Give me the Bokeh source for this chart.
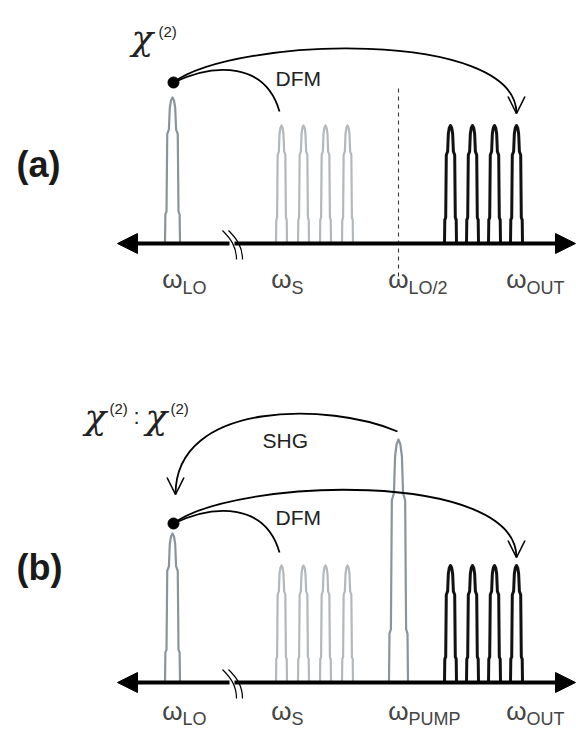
import numpy as np
from bokeh.plotting import figure
from bokeh.models import Range1d, Arrow, NormalHead, OpenHead
from bokeh.core.properties import value
from bokeh.embed import file_html
from bokeh.resources import INLINE

# ---------------- data (frequency positions, peak heights) ----------------
lo_freq = 172
signal_freqs = [281, 303, 325, 347]
out_freqs = [450, 472, 494, 516]
pump_freq = 398
half_lo_freq = 398
axis_start, axis_end = 117, 575
break_freq = 231

a_lo_height = 146
a_signal_heights = [118, 118, 118, 118]
a_out_heights = [118, 118, 118, 118]

b_lo_height = 149
b_signal_heights = [117, 117, 117, 117]
b_pump_height = 243
b_out_heights = [117, 117, 117, 117]

labels_a = ["LO", "S", "LO/2", "OUT"]
labels_a_freq = [lo_freq, signal_freqs[0], half_lo_freq, out_freqs[-1]]
labels_b = ["LO", "S", "PUMP", "OUT"]
labels_b_freq = [lo_freq, signal_freqs[0], pump_freq, out_freqs[-1]]

# ---------------- styles ----------------
GRAY_DARK = "#8b949b"
GRAY_LIGHT = "#b3b8bd"
BLACK = "#111111"
SANS = value("Liberation Sans")
SERIF = value("DejaVu Serif")

PROFILE_F = [0.0, 0.2, 0.22, 0.75, 0.78, 0.93, 0.98, 1.0]
PROFILE_W = [1.0, 0.95, 0.8, 0.7, 0.48, 0.36, 0.2, 0.0]

BASE_A = 486   # vertical offset of panel (a) spectrum axis
BASE_B = 47    # vertical offset of panel (b) spectrum axis

p = figure(width=576, height=729, x_range=Range1d(0, 576), y_range=Range1d(0, 729),
           output_backend="svg", toolbar_location=None, x_axis_type=None, y_axis_type=None,
           min_border=0, outline_line_color=None)
p.grid.visible = False


def peak_outline(x0, h, hw, base):
    xs = [x0 - hw * w for w in PROFILE_W] + [x0 + hw * w for w in reversed(PROFILE_W[:-1])]
    ys = [base + h * f for f in PROFILE_F] + [base + h * f for f in reversed(PROFILE_F[:-1])]
    return xs, ys


def draw_peaks(freqs, heights, hw, color, lw, base):
    xs, ys = [], []
    for f, h in zip(freqs, heights):
        a, b = peak_outline(f, h, hw, base)
        xs.append(a)
        ys.append(b)
    p.multi_line(xs, ys, line_color=color, line_width=lw, line_join="round")


def draw_axis(base):
    p.add_layout(Arrow(start=NormalHead(size=20, fill_color="black", line_color="black"),
                       end=NormalHead(size=20, fill_color="black", line_color="black"),
                       x_start=axis_start, y_start=base, x_end=axis_end, y_end=base,
                       line_width=4, line_color="black"))
    p.quad(left=[break_freq - 2], right=[break_freq + 3], bottom=[base - 4], top=[base + 4],
           fill_color="white", line_color=None, level="overlay")
    for dx in (0, 6):
        p.bezier(x0=[break_freq - 9 + dx], y0=[base + 13], cx0=[break_freq - 1 + dx], cy0=[base + 5],
                 cx1=[break_freq + 5 + dx], cy1=[base - 3], x1=[break_freq + 5 + dx], y1=[base - 16],
                 line_color="black", line_width=1.2, level="overlay")


def draw_labels(names, freqs, wbase, sbase):
    p.text(x=freqs, y=[wbase] * len(freqs), text=["ω"] * len(freqs), text_font=SANS,
           text_font_size="26px", text_align="center", text_baseline="alphabetic",
           text_color="#444444")
    p.text(x=[f + 10 for f in freqs], y=[sbase] * len(freqs), text=names, text_font=SANS,
           text_font_size="18px", text_align="left", text_baseline="alphabetic",
           text_color="#444444")


def down_arrow(x, y):
    p.add_layout(Arrow(end=OpenHead(size=17, line_width=1.6, line_color="black"),
                       x_start=x, y_start=y + 10, x_end=x, y_end=y, line_alpha=0))


def txt(x, y, s, size, font=SANS, style="normal", color="#222222"):
    p.text(x=[x], y=[y], text=[s], text_font=font, text_font_style=style, text_font_size=size,
           text_baseline="alphabetic", text_align="left", text_color=color)


# ---------------- panel (a) ----------------
A = BASE_A
draw_peaks([lo_freq], [a_lo_height], 7.5, GRAY_DARK, 2.2, A)
draw_peaks(signal_freqs, a_signal_heights, 5.5, GRAY_LIGHT, 2.2, A)
draw_peaks(out_freqs, a_out_heights, 6, BLACK, 3.0, A)
p.line([half_lo_freq, half_lo_freq], [A + 155, A - 34], line_dash="4 4", line_color="#333333", line_width=1.1)
draw_axis(A)
dot_a = A + a_lo_height + 15
p.bezier(x0=[lo_freq + 1], y0=[dot_a], cx0=[215], cy0=[dot_a + 20], cx1=[265], cy1=[dot_a + 20],
         x1=[signal_freqs[0] - 2], y1=[A + a_signal_heights[0] + 14], line_width=1.8, line_color="black")
p.bezier(x0=[lo_freq + 1], y0=[dot_a], cx0=[235], cy0=[dot_a + 46], cx1=[out_freqs[-1]], cy1=[dot_a + 54],
         x1=[out_freqs[-1]], y1=[A + a_out_heights[-1] + 12], line_width=1.8, line_color="black")
down_arrow(out_freqs[-1], A + a_out_heights[-1] + 12)
p.scatter([lo_freq + 1], [dot_a], size=11, color="black")
draw_labels(labels_a, labels_a_freq, A - 35, A - 44)
txt(16, A + 79, "(a)", "36px", style="bold", color="#1a1a1a")
txt(131, A + 206, "χ", "36px", font=SERIF, style="italic")
txt(158, A + 212, "(2)", "15px")
txt(275, A + 165, "DFM", "21px")

# ---------------- panel (b) ----------------
B = BASE_B
draw_peaks([lo_freq], [b_lo_height], 7.5, GRAY_DARK, 2.2, B)
draw_peaks(signal_freqs, b_signal_heights, 5.5, GRAY_LIGHT, 2.2, B)
draw_peaks([pump_freq], [b_pump_height], 9.5, GRAY_DARK, 2.2, B)
draw_peaks(out_freqs, b_out_heights, 6, BLACK, 3.0, B)
draw_axis(B)
dot_b = B + b_lo_height + 10
p.bezier(x0=[lo_freq + 1], y0=[dot_b], cx0=[215], cy0=[dot_b + 20], cx1=[265], cy1=[dot_b + 20],
         x1=[signal_freqs[0] - 2], y1=[B + b_signal_heights[0] + 13], line_width=1.8, line_color="black")
p.bezier(x0=[lo_freq + 1], y0=[dot_b], cx0=[235], cy0=[dot_b + 46], cx1=[out_freqs[-1]], cy1=[dot_b + 54],
         x1=[out_freqs[-1]], y1=[B + b_out_heights[-1] + 8], line_width=1.8, line_color="black")
down_arrow(out_freqs[-1], B + b_out_heights[-1] + 8)
p.bezier(x0=[pump_freq - 1], y0=[B + b_pump_height + 8], cx0=[330], cy0=[B + b_pump_height + 37],
         cx1=[lo_freq + 3], cy1=[B + b_pump_height + 40], x1=[lo_freq + 3], y1=[dot_b + 29],
         line_width=1.8, line_color="black")
down_arrow(lo_freq + 3, dot_b + 29)
p.scatter([lo_freq + 1], [dot_b], size=11, color="black")
draw_labels(labels_b, labels_b_freq, B - 28, B - 36)
txt(16, B + 115, "(b)", "36px", style="bold", color="#1a1a1a")
txt(84, B + 266, "χ", "36px", font=SERIF, style="italic")
txt(109, B + 274, "(2)", "15px")
txt(133, B + 266, ":", "22px")
txt(145, B + 266, "χ", "36px", font=SERIF, style="italic")
txt(170, B + 274, "(2)", "15px")
txt(262, B + 242, "SHG", "21px")
txt(275, B + 165, "DFM", "21px")

open("out.html", "w").write(file_html(p, INLINE))
